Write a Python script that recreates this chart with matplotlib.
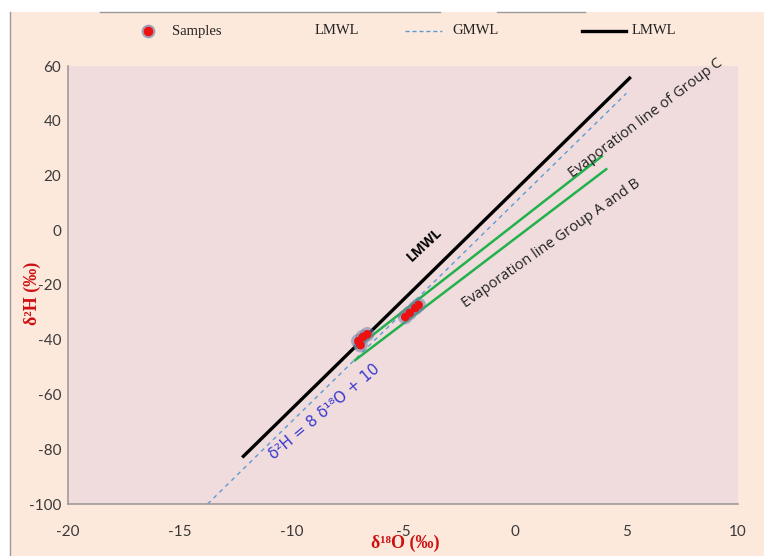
import matplotlib
matplotlib.use("Agg")
import matplotlib.pyplot as plt
from matplotlib.lines import Line2D
from matplotlib.patches import Rectangle

# ---- data -------------------------------------------------------------
sample_d18o = [-7.0, -6.9, -6.8, -6.6, -4.9, -4.7, -4.45, -4.3]
sample_d2h = [-40.5, -42.0, -39.0, -38.0, -31.7, -30.2, -28.4, -27.3]

lmwl_x = [-12.2, 5.2]
lmwl_y = [-83.0, 56.0]

gmwl_x = [-13.75, 5.0]
gmwl_y = [-100.0, 50.0]

evap_c_x = [-7.1, 3.9]
evap_c_y = [-43.0, 27.0]

evap_ab_x = [-7.15, 4.1]
evap_ab_y = [-47.5, 22.3]

x_ticks = [-20, -15, -10, -5, 0, 5, 10]
y_ticks = [-100, -80, -60, -40, -20, 0, 20, 40, 60]

# ---- figure -----------------------------------------------------------
W, H = 764, 556
fig = plt.figure(figsize=(W / 100, H / 100), dpi=100)
fig.patch.set_facecolor("white")


def fx(px):
    return px / W


def fy(py):
    return 1 - py / H


PEACH = "#fde9dc"
PLOT_BG = "#f0dcdc"
fig.patches.append(Rectangle((fx(10), 0), 1 - fx(10), fy(12),
                             transform=fig.transFigure, facecolor=PEACH,
                             edgecolor="none", zorder=-10))
fig.lines.append(Line2D([fx(10), fx(10)], [0, fy(12)], transform=fig.transFigure,
                        color="#9a9a9a", lw=1.0, zorder=-5))
for a, b in [(100, 440), (497, 585)]:
    fig.lines.append(Line2D([fx(a), fx(b)], [fy(12), fy(12)], transform=fig.transFigure,
                            color="#9a9a9a", lw=1.0, zorder=-5))

ax = fig.add_axes([fx(68), fy(504), (738 - 68) / W, (504 - 66) / H])
ax.set_zorder(1)
ax.set_facecolor(PLOT_BG)
ax.set_xlim(-20, 10)
ax.set_ylim(-100, 60)
ax.set_xticks(x_ticks)
ax.set_yticks(y_ticks)
tick_font = dict(family=["Lato", "DejaVu Sans"], size=11, color="#3a3a3a")
ax.set_xticklabels([str(v) for v in x_ticks], **tick_font)
ax.set_yticklabels([str(v) for v in y_ticks], **tick_font)
ax.tick_params(axis="x", length=0, pad=15)
ax.tick_params(axis="y", length=0, pad=5)
for side in ("top", "right"):
    ax.spines[side].set_visible(False)
for side in ("left", "bottom"):
    ax.spines[side].set_color("#a09a9a")
    ax.spines[side].set_linewidth(1.2)

# lines
ax.plot(gmwl_x, gmwl_y, color="#5b9bd5", lw=1.0, ls=(0, (3, 3)), zorder=2)
ax.plot(lmwl_x, lmwl_y, color="black", lw=2.4, solid_capstyle="butt", zorder=3)
ax.plot(evap_c_x, evap_c_y, color="#22b14c", lw=1.8, zorder=3)
ax.plot(evap_ab_x, evap_ab_y, color="#22b14c", lw=1.8, zorder=3)

# samples with soft halo
ax.scatter(sample_d18o, sample_d2h, s=110, color="#6f82a8", alpha=0.55,
           edgecolors="none", zorder=4)
ax.scatter(sample_d18o, sample_d2h, s=38, color="#ee1111", edgecolors="none", zorder=5)

# annotations
sans = ["Open Sans", "DejaVu Sans"]
ax.text(-4.05, -5.2, "LMWL", rotation=43, ha="center", va="center",
        family=sans, weight="bold", size=10, color="black")
ax.text(-8.5, -66.5, "δ²H = 8 δ¹⁸O + 10", rotation=40, ha="center", va="center",
        family=["DejaVu Sans"], size=11, color="#3a3ad0")
ax.text(5.85, 41.0, "Evaporation line of Group C", rotation=37, ha="center",
        va="center", family=sans, size=10.5, color="#222222", clip_on=False)
ax.text(1.65, -4.7, "Evaporation line Group A and B", rotation=35, ha="center",
        va="center", family=sans, size=10.5, color="#222222")

# axis titles
serif = ["Liberation Serif", "DejaVu Serif"]
fig.text(fx(405), fy(543), "δ¹⁸O (‰)", ha="center", va="center", family=serif,
         weight="bold", size=13, color="#cc1111", zorder=5)
fig.text(fx(32), fy(293), "δ²H (‰)", ha="center", va="center", rotation=90,
         family=serif, weight="bold", size=13, color="#cc1111", zorder=5)

# legend row
leg_y = fy(31)
leg_font = dict(family=serif, size=10.5, color="#222222", va="center", ha="left")
fig.lines.append(Line2D([fx(148)], [leg_y], transform=fig.transFigure, marker="o",
                        markersize=9, color="#6f82a8", alpha=0.55, ls="none"))
fig.lines.append(Line2D([fx(148)], [leg_y], transform=fig.transFigure, marker="o",
                        markersize=6, color="#ee1111", ls="none"))
fig.text(fx(172), leg_y, "Samples", **leg_font)
fig.text(fx(315), leg_y, "LMWL", **leg_font)
fig.lines.append(Line2D([fx(405), fx(442)], [leg_y, leg_y], transform=fig.transFigure,
                        color="#5b9bd5", lw=1.0, ls=(0, (3, 2))))
fig.text(fx(452), leg_y, "GMWL", **leg_font)
fig.lines.append(Line2D([fx(582), fx(626)], [leg_y, leg_y], transform=fig.transFigure,
                        color="black", lw=2.4))
fig.text(fx(632), leg_y, "LMWL", **leg_font)

fig.savefig("out.png", dpi=100, facecolor=fig.get_facecolor())
